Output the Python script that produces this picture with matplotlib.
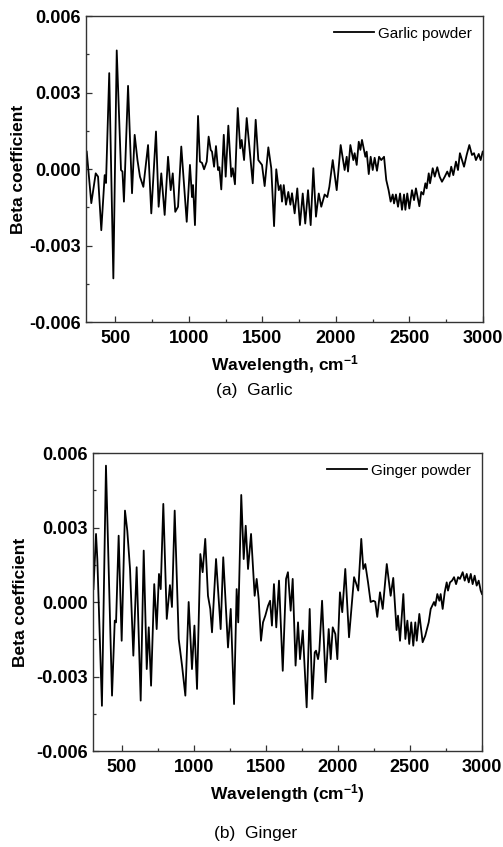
import matplotlib
matplotlib.use("Agg")
import matplotlib.pyplot as plt
from matplotlib.ticker import MultipleLocator, FixedLocator, FormatStrFormatter

plt.rcParams['font.family'] = ['Liberation Sans', 'DejaVu Sans']
plt.rcParams['axes.unicode_minus'] = False
plt.rcParams['mathtext.fontset'] = 'custom'
plt.rcParams['mathtext.rm'] = 'Liberation Sans:bold'
plt.rcParams['mathtext.it'] = 'Liberation Sans:bold'
plt.rcParams['mathtext.bf'] = 'Liberation Sans:bold'

# ---------------- data: garlic powder ----------------
garlic_wn = [305, 336, 366, 382, 404, 427, 436, 458, 486, 509, 538, 548, 558, 586, 613, 631, 650, 667, 690,
             722, 744, 776, 794, 812, 835, 858, 876, 890, 907, 926, 948, 985, 1007, 1021, 1028, 1041, 1062,
             1075, 1089, 1103, 1121, 1134, 1148, 1157, 1171, 1184, 1198, 1207, 1220, 1237, 1250, 1268, 1288,
             1298, 1313, 1332, 1349, 1359, 1375, 1393, 1434, 1454, 1472, 1497, 1515, 1540, 1560, 1579, 1594,
             1611, 1624, 1633, 1645, 1660, 1676, 1690, 1701, 1719, 1737, 1755, 1774, 1791, 1810, 1828, 1846,
             1864, 1883, 1900, 1923, 1941, 1955, 1978, 2005, 2032, 2059, 2073, 2082, 2098, 2118, 2127, 2141,
             2155, 2166, 2177, 2200, 2209, 2223, 2236, 2250, 2263, 2279, 2293, 2308, 2327, 2342, 2358, 2372,
             2386, 2395, 2408, 2422, 2436, 2449, 2463, 2472, 2485, 2499, 2517, 2531, 2544, 2567, 2580, 2594,
             2608, 2617, 2631, 2640, 2658, 2672, 2689, 2705, 2721, 2740, 2757, 2771, 2784, 2798, 2816, 2830,
             2843, 2857, 2871, 2889, 2907, 2925, 2939, 2952, 2971, 2984, 2998]
garlic_beta = [0.00068, -0.00134, -0.00017, -0.0003, -0.0024, -0.00024, -0.00055, 0.00376, -0.00429, 0.00465,
               -0.00004, -0.0001, -0.00128, 0.00326, -0.00095, 0.00134, 0.00035, -0.0003, -0.0007,
               0.00094, -0.00174, 0.00147, -0.00148, -0.00017, -0.0018, 0.00048, -0.00083, -0.00017, -0.00168,
               -0.00148, 0.00088, -0.00207, 0.00016, -0.0011, -0.00063, -0.0022, 0.00208,
               0.00029, 0.00024, -0.00001, 0.00029, 0.00127, 0.00075, 0.00068, 0.00009, 0.0009, -0.00004, 0.00007,
               -0.0008, 0.00134, -0.0003, 0.0017, -0.0003,
               0.00003, -0.0006, 0.00239, 0.00081, 0.00114, 0.00035, 0.002, -0.00056, 0.00193, 0.00035, 0.00016,
               -0.00067, 0.00085, 0.00003, -0.00224, -0.00001,
               -0.00083, -0.00063, -0.00128, -0.00063, -0.0014, -0.0009, -0.0014, -0.00095, -0.00174, -0.00076,
               -0.0022, -0.00096, -0.00214, -0.00083, -0.0022, 0.00003,
               -0.00187, -0.00096, -0.00148, -0.001, -0.0011, -0.0007, 0.00035, -0.00083, 0.00094, -0.00004,
               0.00048, -0.0001, 0.00094, 0.00035, 0.00062, 0.00016,
               0.00107, 0.00075, 0.00114, 0.00048, 0.00068, -0.0002, 0.00048, -0.00004, 0.00044, -0.00007,
               0.00048, 0.00035, 0.00048, -0.00043, -0.00083, -0.00128,
               -0.001, -0.00135, -0.001, -0.00148, -0.00096, -0.0016, -0.001, -0.0016, -0.00096, -0.00155,
               -0.00083, -0.00122, -0.00076, -0.00146, -0.0009, -0.001,
               -0.00056, -0.00076, -0.00017, -0.00056, 0.00003, -0.0003, 0.00007, -0.0003, -0.0005, -0.0003,
               -0.0001, -0.0003, 0.00009, -0.00024, 0.00029, -0.00004,
               0.00062, 0.00035, 0.00009, 0.00055, 0.00094, 0.00055, 0.00062, 0.00035, 0.00059, 0.00035, 0.00068]

# ---------------- data: ginger powder ----------------
ginger_wn = [303, 321, 330, 362, 390, 432, 451, 460, 478, 499, 522, 538, 557, 580, 603, 631, 652, 673, 687, 703,
             725, 742, 758, 770, 788, 812, 834, 848, 867, 895, 918, 941, 964, 987, 1004, 1022, 1045, 1061, 1079,
             1098, 1114, 1126, 1154, 1186, 1204, 1237, 1256, 1279, 1297, 1308, 1329, 1346, 1360, 1376, 1397,
             1422, 1436, 1450, 1466, 1480, 1496, 1515, 1529, 1542, 1556, 1572, 1591, 1617, 1640, 1653, 1672,
             1686, 1706, 1723, 1737, 1756, 1783, 1804, 1822, 1839, 1848, 1862, 1871, 1890, 1915, 1936, 1950,
             1964, 1982, 1996, 2014, 2030, 2051, 2077, 2112, 2128, 2141, 2162, 2176, 2190, 2209, 2227, 2246,
             2259, 2273, 2292, 2311, 2339, 2366, 2384, 2407, 2417, 2431, 2454, 2468, 2482, 2495, 2509, 2523,
             2537, 2547, 2565, 2588, 2606, 2630, 2644, 2667, 2676, 2690, 2704, 2713, 2727, 2741, 2755, 2764,
             2778, 2792, 2806, 2820, 2834, 2847, 2866, 2880, 2894, 2908, 2922, 2935, 2949, 2963, 2977, 2991, 3000]
ginger_beta = [0.00052, 0.00274, 0.00173, -0.00418, 0.00549, -0.00377, -0.00075, -0.00082, 0.00267, -0.00156,
               0.00368, 0.00287, 0.00133, -0.00216, 0.0014, -0.00397, 0.00207, -0.0027, -0.00102, -0.00337,
               0.00072, -0.00109, 0.00113, 0.00052, 0.00395, -0.00068, 0.00068, -0.0002, 0.00368, -0.00149,
               -0.00256, -0.00377, 0.0, -0.0027, -0.00095, -0.0035, 0.00193, 0.0012, 0.00254,
               0.00025, -0.00028, -0.00122, 0.00173, -0.00109, 0.0018, -0.00183, -0.00028, -0.00411, 0.00052,
               -0.00082, 0.00431, 0.00173, 0.00307, 0.00133, 0.00274,
               0.00025, 0.00093, 0.00012, -0.00156, -0.00082, -0.00055, -0.00015, 0.00005, -0.00095, 0.00072,
               -0.00102, 0.00086, -0.00277, 0.00093, 0.0012, -0.00035,
               0.00093, -0.00256, -0.00082, -0.0023, -0.00115, -0.00424, -0.00028, -0.0039, -0.00203, -0.00196,
               -0.0023, -0.00196, 0.00005, -0.00323, -0.00109, -0.0023,
               -0.00102, -0.00129, -0.0023, 0.00039, -0.00041, 0.00133, -0.00142, 0.001, 0.00072, 0.00046,
               0.00254, 0.00133, 0.00153, 0.00079, 0.0, 0.00005,
               0.00001, -0.0006, 0.00039, -0.00028, 0.00153, 0.00025, 0.00097, -0.00113, -0.00055, -0.00156,
               0.00032, -0.00149, -0.00075, -0.00169, -0.00082, -0.00176,
               -0.00082, -0.00156, -0.00048, -0.00162, -0.00136, -0.00082, -0.00028, 0.0, -0.00015, 0.00032,
               0.00005, 0.00032, -0.00028, 0.00039, 0.00079, 0.00046,
               0.00079, 0.00086, 0.001, 0.00072, 0.001, 0.00093, 0.0012, 0.00086, 0.00113, 0.00079, 0.00113,
               0.00072, 0.00106, 0.00066, 0.00086, 0.00046, 0.00032]

x_ticks = [500, 1000, 1500, 2000, 2500, 3000]
y_ticks = [-0.006, -0.003, 0.000, 0.003, 0.006]

fig = plt.figure(figsize=(5.03, 8.47), dpi=100)

def style(ax, xlabel):
    ax.set_xlim(300, 3000)
    ax.set_ylim(-0.006, 0.006)
    ax.xaxis.set_major_locator(FixedLocator(x_ticks))
    ax.xaxis.set_minor_locator(MultipleLocator(250))
    ax.yaxis.set_major_locator(FixedLocator(y_ticks))
    ax.yaxis.set_minor_locator(MultipleLocator(0.0015))
    ax.yaxis.set_major_formatter(FormatStrFormatter('%.3f'))
    ax.tick_params(which='both', direction='in', top=False, right=False, width=0.9, color='#333333')
    ax.tick_params(which='major', length=4, labelsize=13, pad=4)
    ax.tick_params(axis='x', which='major', pad=6)
    ax.tick_params(which='minor', length=2.5)
    for lab in ax.get_xticklabels() + ax.get_yticklabels():
        lab.set_fontweight('bold')
    for sp in ax.spines.values():
        sp.set_linewidth(1.0)
        sp.set_color('#333333')
    ax.set_xlabel(xlabel, fontsize=12.5, fontweight='bold', labelpad=4)
    ax.set_ylabel('Beta coefficient', fontsize=12.5, fontweight='bold')

ax1 = fig.add_axes([86/503, 1-322/847, 397/503, 306/847])
ax1.plot(garlic_wn, garlic_beta, color='black', lw=1.3, label='Garlic powder')
style(ax1, r'Wavelength, cm$^{-1}$')
ax1.yaxis.set_label_coords(-0.15, 0.5)
ax1.legend(loc='upper right', frameon=False, fontsize=11, handlelength=2.6, handletextpad=0.3,
           borderaxespad=0.3)

ax2 = fig.add_axes([93/503, 1-751/847, 389/503, 298/847])
ax2.plot(ginger_wn, ginger_beta, color='black', lw=1.3, label='Ginger powder')
style(ax2, r'Wavelength (cm$^{-1}$)')
ax2.yaxis.set_label_coords(-0.167, 0.5)
ax2.legend(loc='upper right', frameon=False, fontsize=11, handlelength=2.6, handletextpad=0.3,
           borderaxespad=0.3)

fig.text(254/503, 1-391/847, '(a)  Garlic', ha='center', va='center', fontsize=12.5)
fig.text(256/503, 1-833/847, '(b)  Ginger', ha='center', va='center', fontsize=12.5)

fig.savefig('out.png', dpi=100)
